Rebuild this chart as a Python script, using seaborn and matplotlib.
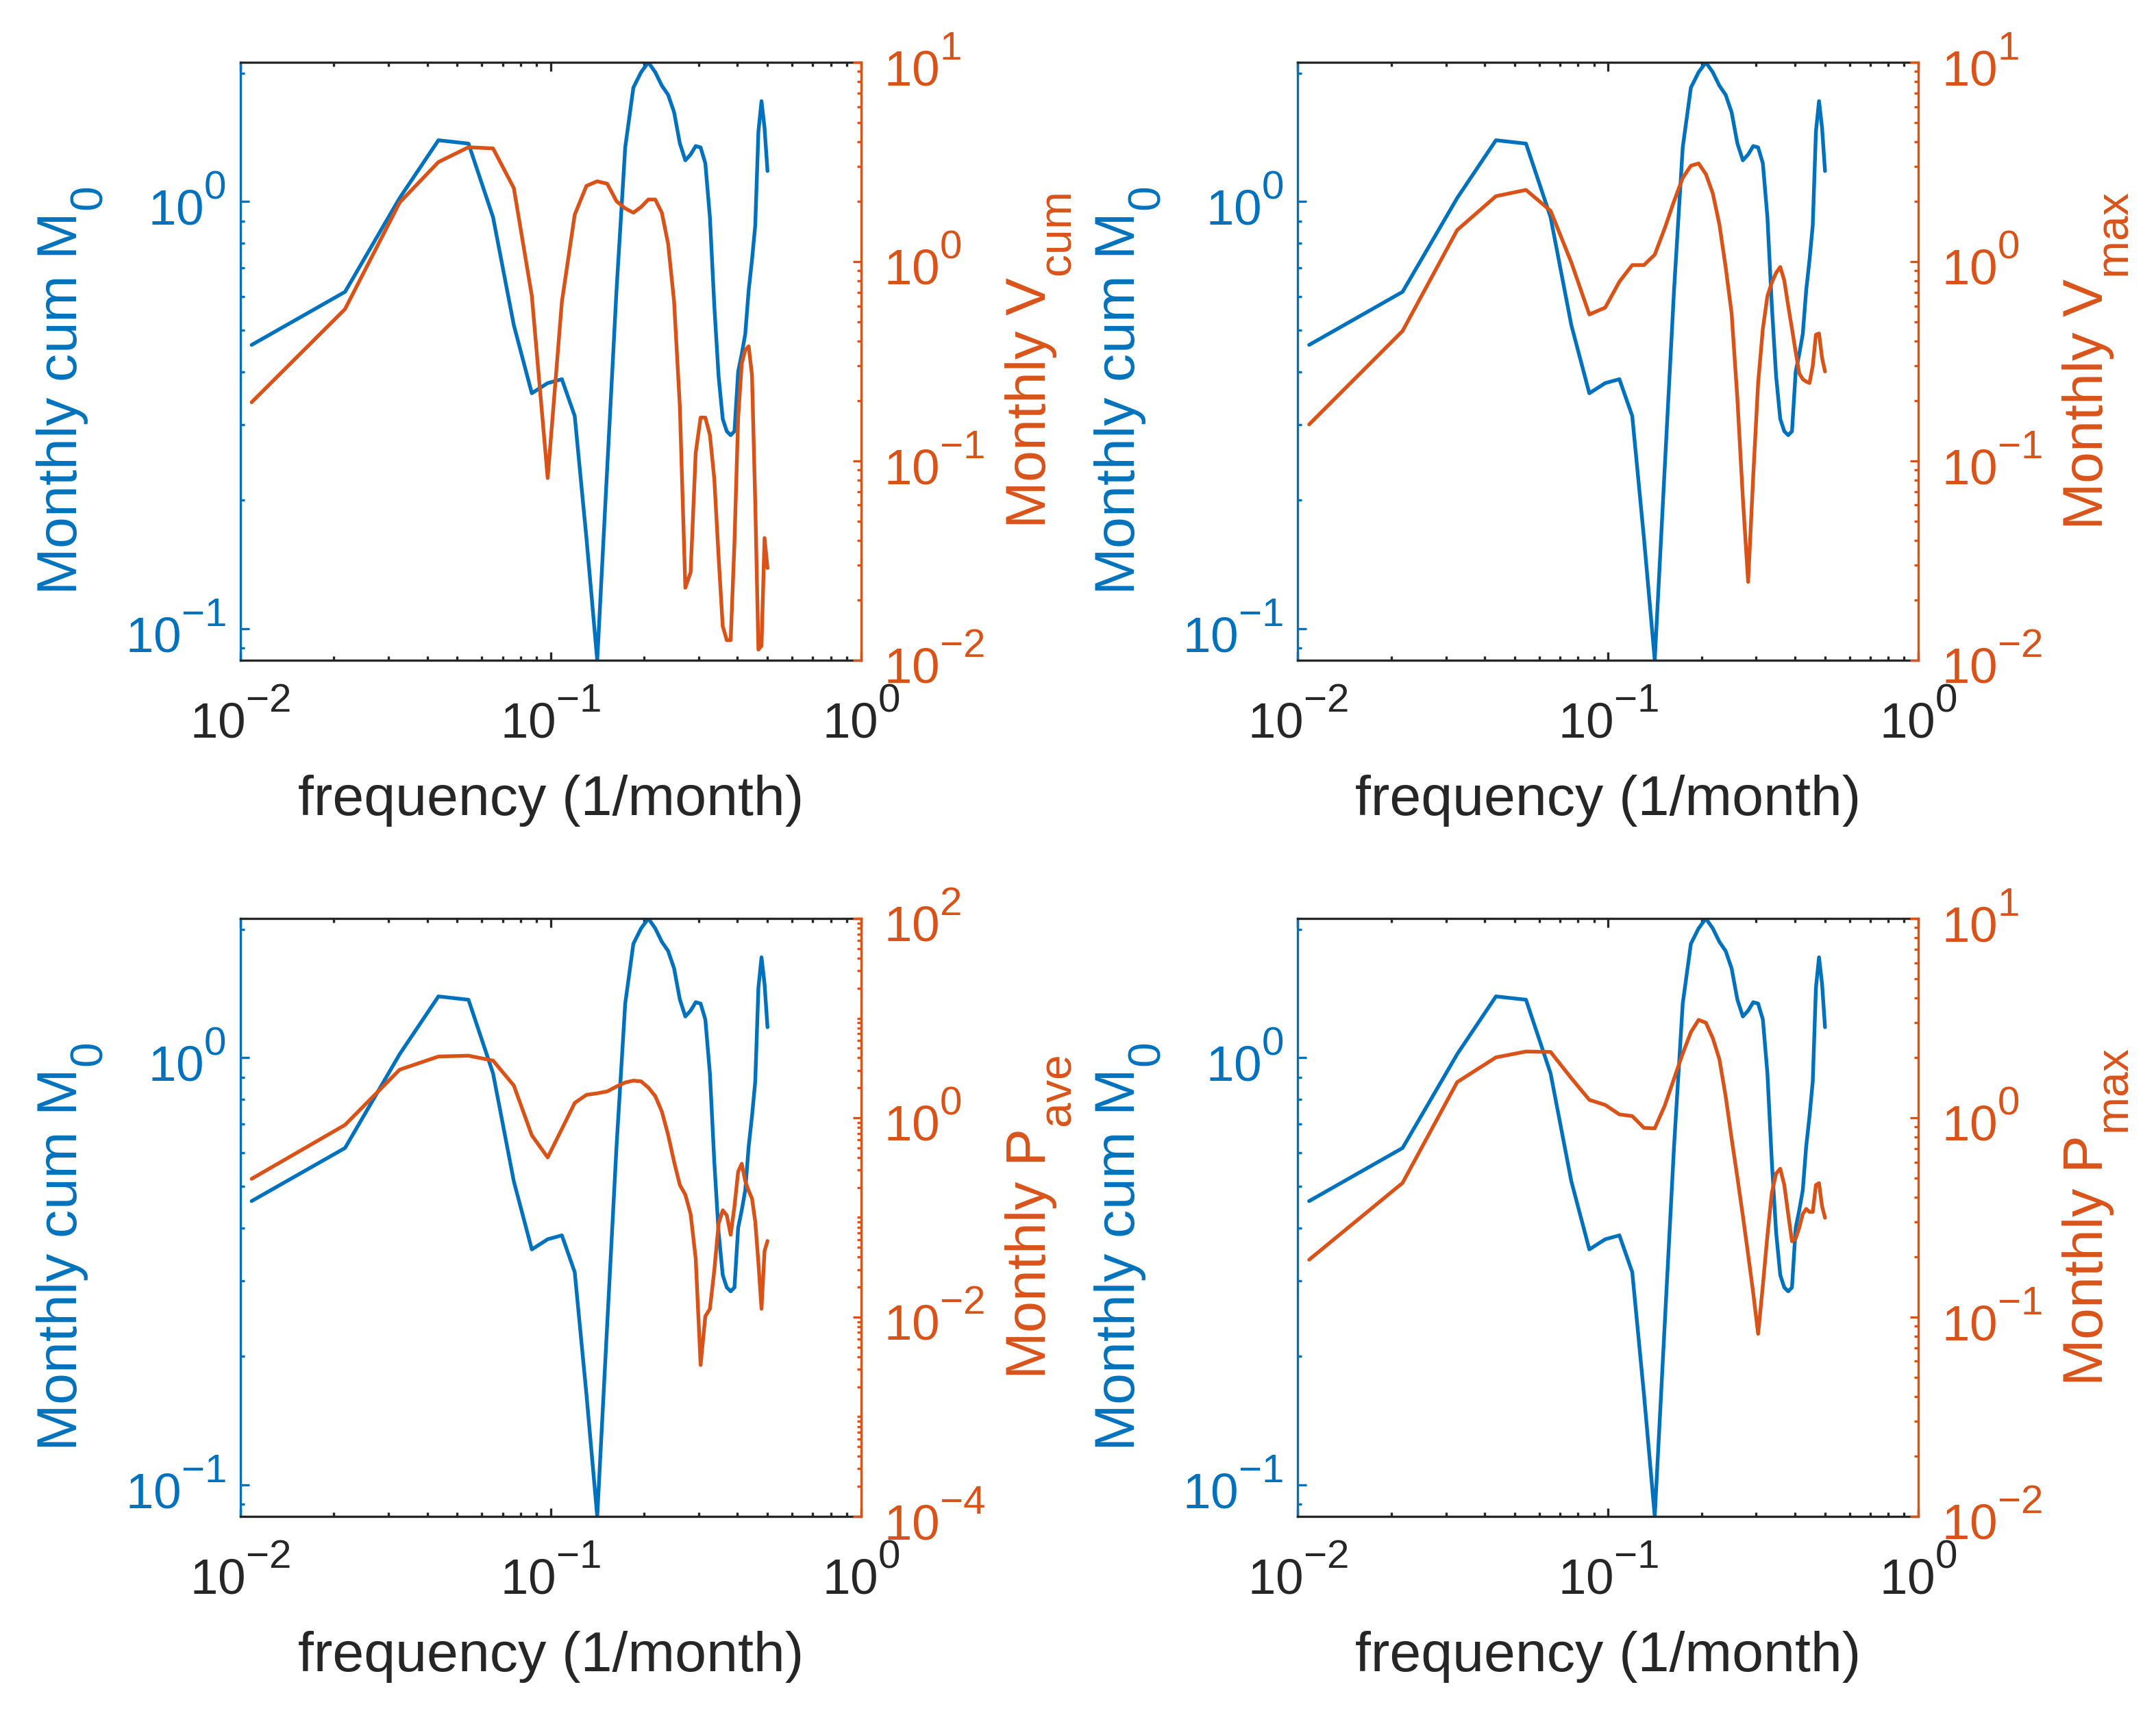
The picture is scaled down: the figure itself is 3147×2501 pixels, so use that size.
import numpy as np
import matplotlib
matplotlib.use("Agg")
import matplotlib.pyplot as plt
from matplotlib.ticker import LogLocator, NullFormatter
import seaborn as sns

# bigger and further offset super/subscripts, closer to the original export
try:
    import matplotlib._mathtext as _mt
    _mt.SHRINK_FACTOR = 0.8
    _mt.FontConstantsBase.sub1 = 0.9
    _mt.FontConstantsBase.sup1 = 1.0
except Exception:
    pass

# frequency grid of a 92-month record (k / 92, k = 1..46)
n_months = 92
freq = np.arange(1, n_months // 2 + 1) / n_months

# spectra
m0_cum = [0.462, 0.615, 1.02, 1.393, 1.368, 0.92, 0.514, 0.356, 0.376, 0.384,
          0.315, 0.163, 0.0844, 0.238, 0.62, 1.34, 1.85, 2.01, 2.12, 2.01,
          1.87, 1.78, 1.62, 1.37, 1.25, 1.29, 1.35, 1.34, 1.23, 0.92,
          0.57, 0.39, 0.31, 0.29, 0.284, 0.29, 0.40, 0.44, 0.49, 0.62,
          0.73, 0.88, 1.46, 1.72, 1.49, 1.18]

v_cum = [0.197, 0.578, 1.98, 3.16, 3.75, 3.70, 2.34, 0.674, 0.082, 0.629,
         1.72, 2.40, 2.53, 2.46, 2.01, 1.85, 1.76, 1.88, 2.05, 2.05,
         1.76, 1.23, 0.629, 0.188, 0.0231, 0.0276, 0.110, 0.165, 0.165, 0.135,
         0.081, 0.033, 0.0148, 0.0126, 0.0126, 0.039, 0.165, 0.308, 0.36, 0.376,
         0.269, 0.062, 0.0113, 0.0118, 0.041, 0.029]

v_max = [0.1525, 0.4485, 1.44, 2.13, 2.29, 1.80, 0.99, 0.543, 0.588, 0.793,
         0.961, 0.961, 1.084, 1.47, 2.01, 2.63, 3.03, 3.11, 2.75, 2.20,
         1.54, 0.94, 0.55, 0.206, 0.065, 0.0247, 0.084, 0.246, 0.46, 0.672,
         0.786, 0.879, 0.94, 0.804, 0.601, 0.46, 0.352, 0.275, 0.257, 0.25,
         0.246, 0.30, 0.43, 0.436, 0.329, 0.281]

p_ave = [0.244, 0.848, 3.04, 4.12, 4.2, 3.75, 2.11, 0.667, 0.40, 0.773,
         1.41, 1.70, 1.76, 1.84, 2.06, 2.26, 2.36, 2.32, 2.01, 1.65,
         1.155, 0.675, 0.361, 0.212, 0.169, 0.108, 0.0387, 0.0033, 0.0102, 0.0121,
         0.0296, 0.0865, 0.118, 0.105, 0.067, 0.129, 0.289, 0.346, 0.231, 0.185,
         0.155, 0.091, 0.035, 0.0121, 0.046, 0.058]

p_max = [0.194, 0.471, 1.51, 2.01, 2.15, 2.14, 1.58, 1.23, 1.16, 1.04,
         1.02, 0.89, 0.885, 1.15, 1.57, 2.10, 2.69, 3.10, 3.00, 2.51,
         1.97, 1.285, 0.786, 0.503, 0.322, 0.206, 0.132, 0.0824, 0.144, 0.257,
         0.42, 0.526, 0.555, 0.46, 0.329, 0.24, 0.248, 0.281, 0.329, 0.349,
         0.337, 0.337, 0.46, 0.47, 0.36, 0.315]

right_labels = [r"Monthly V$_{\mathrm{cum}}$", r"Monthly V$_{\mathrm{max}}$",
                r"Monthly P$_{\mathrm{ave}}$", r"Monthly P$_{\mathrm{max}}$"]
right_series = [v_cum, v_max, p_ave, p_max]
right_limits = [(1e-2, 1e1), (1e-2, 1e1), (1e-4, 1e2), (1e-2, 1e1)]
right_majors = [[1e-2, 1e-1, 1e0, 1e1], [1e-2, 1e-1, 1e0, 1e1],
                [1e-4, 1e-2, 1e0, 1e2], [1e-2, 1e-1, 1e0, 1e1]]

sns.set_style("ticks")
plt.rcParams["font.family"] = ["Liberation Sans", "DejaVu Sans"]
plt.rcParams["mathtext.fontset"] = "custom"
plt.rcParams["mathtext.rm"] = "Liberation Sans"
plt.rcParams["mathtext.it"] = "Liberation Sans:italic"
plt.rcParams["mathtext.default"] = "regular"

blue = "#0072BD"
orange = "#D95319"
dark = "#262626"
tick_fs = 17.5
label_fs = 19.8

fig = plt.figure(figsize=(3147 / 300, 2501 / 300), dpi=300)

lefts = [0.1115, 0.602, 0.1115, 0.602]
bottoms = [0.6146, 0.6146, 0.1148, 0.1148]
w, h = 0.2878, 0.349

for i in range(4):
    ax = fig.add_axes([lefts[i], bottoms[i], w, h])
    sns.lineplot(x=freq, y=m0_cum, ax=ax, color=blue, lw=1.3)
    ax.set_xscale("log")
    ax.set_yscale("log")
    ax.set_xlim(1e-2, 1e0)
    ax.set_ylim(min(m0_cum), max(m0_cum))

    ax2 = ax.twinx()
    sns.lineplot(x=freq, y=right_series[i], ax=ax2, color=orange, lw=1.3)
    ax2.set_yscale("log")
    ax2.set_ylim(*right_limits[i])
    ax2.set_yticks(right_majors[i])
    ax2.yaxis.set_minor_locator(LogLocator(base=10, subs=np.arange(1, 10), numticks=100))
    ax2.yaxis.set_minor_formatter(NullFormatter())
    ax.set_xlim(1e-2, 1e0)

    ax.xaxis.set_major_locator(LogLocator(base=10, numticks=10))
    ax.xaxis.set_minor_locator(LogLocator(base=10, subs=np.arange(2, 10), numticks=100))
    ax.xaxis.set_minor_formatter(NullFormatter())
    ax.yaxis.set_minor_locator(LogLocator(base=10, subs=np.arange(2, 10), numticks=100))
    ax.yaxis.set_minor_formatter(NullFormatter())

    # ticks
    ax.tick_params(axis="x", which="both", direction="in", top=True, bottom=True,
                   colors=dark, labelsize=tick_fs, pad=11, width=0.8)
    ax.tick_params(axis="x", which="major", length=3.0)
    ax.tick_params(axis="x", which="minor", length=1.5)
    ax.tick_params(axis="y", which="both", direction="in", left=True, right=False,
                   colors=blue, labelsize=tick_fs, pad=5, width=0.8)
    ax.tick_params(axis="y", which="major", length=3.0)
    ax.tick_params(axis="y", which="minor", length=1.5)
    ax2.tick_params(axis="y", which="both", direction="in", right=True,
                    colors=orange, labelsize=tick_fs, pad=8, width=0.8)
    ax2.tick_params(axis="y", which="major", length=3.0)
    ax2.tick_params(axis="y", which="minor", length=1.5)

    # spines
    for s in ["top", "bottom"]:
        ax.spines[s].set_color(dark)
        ax.spines[s].set_linewidth(0.8)
        ax2.spines[s].set_visible(False)
    ax.spines["left"].set_color(blue)
    ax.spines["left"].set_linewidth(0.8)
    ax.spines["right"].set_visible(False)
    ax2.spines["left"].set_visible(False)
    ax2.spines["right"].set_color(orange)
    ax2.spines["right"].set_linewidth(0.8)

    # labels
    ax.set_xlabel("frequency (1/month)", fontsize=label_fs, color=dark)
    ax.set_ylabel(r"Monthly cum M$_0$", fontsize=label_fs, color=blue)
    ax2.set_ylabel(right_labels[i], fontsize=label_fs, color=orange)
    ax.xaxis.set_label_coords(0.5, -0.192)
    ax.yaxis.set_label_coords(-0.218, 0.45)
    ax2.yaxis.set_label_coords(1.23, 0.5)

fig.savefig("out.png", dpi=300)
